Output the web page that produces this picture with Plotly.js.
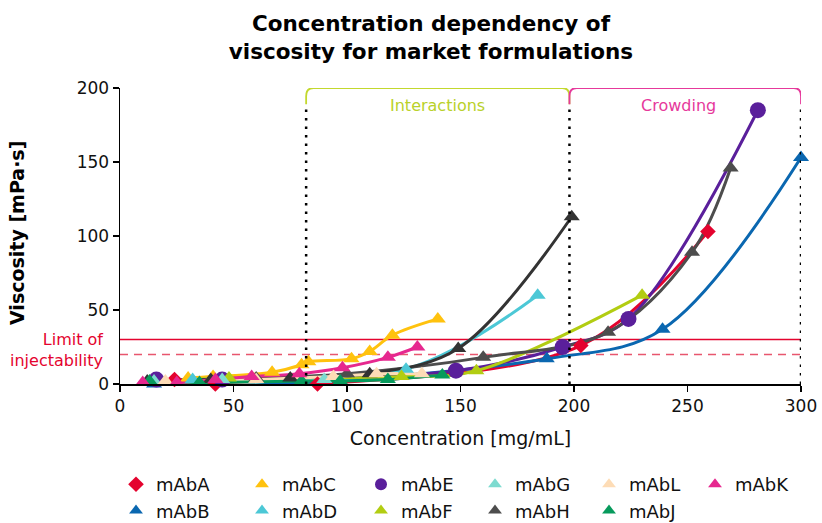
<!DOCTYPE html>
<html>
<head>
<meta charset="utf-8">
<script src="https://cdn.plot.ly/plotly-3.0.1.min.js"></script>
<style>html,body{margin:0;padding:0;background:#fff;}#chart{width:822px;height:523px;}</style>
</head>
<body>
<div id="chart"></div>
<script>
// ---- data (concentration mg/mL, viscosity mPa·s) ----
const conc_A = [24, 42, 73, 87, 203, 259];
const visc_A = [3, 0, -1, 0, 26, 103];
const conc_B = [15, 55, 188, 239, 300];
const visc_B = [0, -1, 17, 37, 153];
const conc_C = [30, 41, 67, 80, 83, 102, 110, 120, 140];
const visc_C = [4, 5, 8, 13, 15, 17, 22, 33, 44];
const conc_D = [12, 32, 126, 184];
const visc_D = [1, 3, 10, 60];
const conc_E = [16, 45, 148, 195, 224, 281];
const visc_E = [3, 3, 9, 25, 44, 185];
const conc_F = [12, 48, 124, 157, 230];
const visc_F = [1, 4, 5, 9, 60];
const conc_G = [15, 45, 90];
const visc_G = [2, 3, 3];
const conc_H1 = [12, 40, 75, 110, 149, 199];
const visc_H1 = [2, 3, 4, 7, 24, 113];
const conc_H2 = [12, 60, 100, 160, 215, 252, 269];
const visc_H2 = [1, 4, 7, 18, 35, 89, 146];
const conc_J = [13, 35, 80, 97, 118, 142];
const visc_J = [2, 1, 2, 2, 3, 6];
const conc_K = [10, 25, 42, 58, 79, 98, 118, 131];
const visc_K = [1, 1, 3, 5, 7, 11, 18, 25];
const conc_L = [20, 60, 94, 113, 133];
const visc_L = [2, 3, 5, 7, 7];

const limitSolid = 30;
const limitDashed = 20;
const regionBounds = [82, 198, 300];
const regionLabels = ['Interactions', 'Crowding'];
const xTicks = [0, 50, 100, 150, 200, 250, 300];
const yTicks = [0, 50, 100, 150, 200];

// ---- series definitions ----
const series = [
  {name:'mAbA', x:conc_A, y:visc_A, color:'#e4032e', sym:'diamond', size:12, legend:'legend',  rank:1},
  {name:'mAbB', x:conc_B, y:visc_B, color:'#0a67b0', sym:'triangle-up', size:14, legend:'legend', rank:2},
  {name:'mAbC', x:conc_C, y:visc_C, color:'#ffc20e', sym:'triangle-up', size:14, legend:'legend2', rank:1},
  {name:'mAbD', x:conc_D, y:visc_D, color:'#4cc8d6', sym:'triangle-up', size:14, legend:'legend2', rank:2},
  {name:'mAbE', x:conc_E, y:visc_E, color:'#5a1f9b', sym:'circle', size:16, legend:'legend3', rank:1},
  {name:'mAbF', x:conc_F, y:visc_F, color:'#b2cd12', sym:'triangle-up', size:14, legend:'legend3', rank:2},
  {name:'mAbG', x:conc_G, y:visc_G, color:'#7ddbd0', sym:'triangle-up', size:14, legend:'legend4', rank:1},
  {name:'mAbH', x:conc_H2, y:visc_H2, color:'#4d4d4d', sym:'triangle-up', size:14, legend:'legend4', rank:2},
  {name:'mAbH', x:conc_H1, y:visc_H1, color:'#333333', sym:'triangle-up', size:14, legend:'legend4', rank:3, hide:true},
  {name:'mAbL', x:conc_L, y:visc_L, color:'#fddcb6', sym:'triangle-up', size:14, legend:'legend5', rank:1},
  {name:'mAbJ', x:conc_J, y:visc_J, color:'#079a5c', sym:'triangle-up', size:14, legend:'legend5', rank:2},
  {name:'mAbK', x:conc_K, y:visc_K, color:'#e6288f', sym:'triangle-up', size:14, legend:'legend6', rank:1}
];

const traces = [];
series.forEach(s => {
  traces.push({
    x: s.x, y: s.y, type:'scatter', mode:'lines', name:s.name,
    line:{color:s.color, width:3, shape:'spline', smoothing:1},
    showlegend:false, hoverinfo:'skip', legend:s.legend
  });
});
series.forEach(s => {
  traces.push({
    x: s.x, y: s.y, type:'scatter', mode:'markers', name:s.name,
    marker:{color:s.color, symbol:s.sym, size:s.size},
    cliponaxis:false, showlegend:!s.hide, legend:s.legend, legendrank:s.rank
  });
});

const FONT = 'DejaVu Sans, Verdana, sans-serif';
const legendCols = [116, 242, 361, 475, 589, 695];
const legendFont = {family:FONT, size:18, color:'#111'};
const legends = {};
legendCols.forEach((px, i) => {
  const key = i === 0 ? 'legend' : 'legend' + (i + 1);
  legends[key] = {
    xref:'container', yref:'container', x: px / 822, y: 1 - 466 / 523,
    xanchor:'left', yanchor:'top', orientation:'v',
    font: legendFont, itemsizing:'constant', bgcolor:'rgba(0,0,0,0)', borderwidth:0,
    tracegroupgap:0
  };
});

const shapes = [
  {type:'line', xref:'x', yref:'y', x0:xTicks[0], x1:xTicks[xTicks.length-1], y0:limitSolid, y1:limitSolid,
   line:{color:'#e4032e', width:1.5}, layer:'below'},
  {type:'line', xref:'x', yref:'y', x0:xTicks[0], x1:xTicks[xTicks.length-1], y0:limitDashed, y1:limitDashed,
   line:{color:'#e8566e', width:1.5, dash:'8px,6px'}, layer:'below'}
];
regionBounds.forEach(b => {
  shapes.push({type:'line', xref:'x', yref:'y', x0:b, x1:b, y0:0, y1:189,
    line:{color:'#000', width:2.5, dash:'2.5px,6px'}});
});
const bracketColors = ['#c3d82e', '#e6399b'];
for (let i = 0; i < 2; i++) {
  const a = regionBounds[i], b = regionBounds[i+1];
  const top = yTicks[yTicks.length-1], low = 189, r = 3.2, ry = 5.5;
  shapes.push({type:'path', xref:'x', yref:'y',
    path:`M ${a},${low} L ${a},${top-ry} Q ${a},${top} ${a+r},${top} L ${b-r},${top} Q ${b},${top} ${b},${top-ry} L ${b},${low}`,
    line:{color:bracketColors[i], width:1.8}});
}

const annotations = [
  {text:regionLabels[0], x:140, y:188, xref:'x', yref:'y', showarrow:false,
   font:{family:FONT, size:16, color:'#b9d12a'}},
  {text:regionLabels[1], x:246, y:188, xref:'x', yref:'y', showarrow:false,
   font:{family:FONT, size:16, color:'#e6399b'}},
  {text:'Limit of<br>injectability', x:-0.022, y:23, xref:'paper', yref:'y', xanchor:'right', yanchor:'middle',
   align:'right', showarrow:false, font:{family:FONT, size:16, color:'#e4032e'}},
  {text:'Viscosity [mPa·s]', x:17/822, y:1 - 233/523, xref:'paper', yref:'paper', xanchor:'center', yanchor:'middle',
   textangle:-90, showarrow:false, font:{family:FONT, size:19, weight:'bold', color:'#000'}}
];
// place y-title annotation in container-like coordinates via paper conversion
annotations[3].x = (17 - 120) / 681;
annotations[3].y = (384 - 233) / 296;

const layout = Object.assign({
  width:822, height:523,
  margin:{l:120, r:21, t:88, b:139, autoexpand:false},
  paper_bgcolor:'#fff', plot_bgcolor:'#fff',
  font:{family:FONT, color:'#111'},
  title:{text:'Concentration dependency of<br>viscosity for market formulations',
    font:{family:FONT, size:21.5, weight:'bold', color:'#000'},
    x:431/822, xref:'container', xanchor:'center', y:1 - 31/523, yref:'container', yanchor:'middle'},
  xaxis:{range:[0, 300], tickvals:xTicks, showgrid:false, zeroline:false,
    showline:true, linecolor:'#000', linewidth:1.5, ticks:'outside', ticklen:6, tickwidth:1.5, tickcolor:'#000',
    tickfont:{family:FONT, size:17, color:'#111'},
    title:{text:'Concentration [mg/mL]', font:{family:FONT, size:19, color:'#111'}, standoff:17}, automargin:false},
  yaxis:{range:[0, 200], tickvals:yTicks, showgrid:false, zeroline:false,
    showline:true, linecolor:'#000', linewidth:1.5, ticks:'outside', ticklen:6, tickwidth:1.5, tickcolor:'#000',
    tickfont:{family:FONT, size:17, color:'#111'}, automargin:false},
  shapes:shapes, annotations:annotations, showlegend:true
}, legends);

Plotly.newPlot('chart', traces, layout, {displayModeBar:false, staticPlot:true});
</script>
</body>
</html>
